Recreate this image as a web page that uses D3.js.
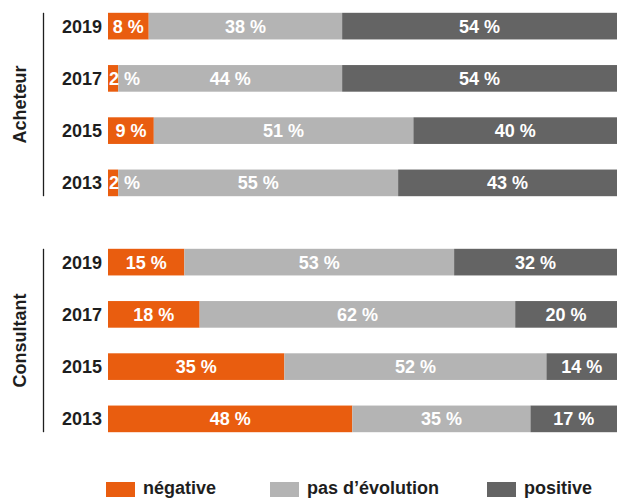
<!DOCTYPE html>
<html>
<head>
<meta charset="utf-8">
<script src="https://cdn.jsdelivr.net/npm/d3@7"></script>
<style>
  html, body { margin: 0; padding: 0; background: #fff; }
  svg { display: block; }
  text { font-family: "Liberation Sans", Arial, sans-serif; font-weight: bold; }
</style>
</head>
<body>
<svg id="chart" width="628" height="499"></svg>
<script>
// Évolution perçue, par profil et par année (en %)
const groups = ["Acheteur", "Consultant"];
const years = ["2019", "2017", "2015", "2013"];
const seriesKeys = ["negative", "stable", "positive"];
const seriesLabels = ["négative", "pas d’évolution", "positive"];
const colors = ["#E95D0F", "#B4B4B4", "#646464"];

const acheteurNegative = [8, 2, 9, 2];
const acheteurStable   = [38, 44, 51, 55];
const acheteurPositive = [54, 54, 40, 43];

const consultantNegative = [15, 18, 35, 48];
const consultantStable   = [53, 62, 52, 35];
const consultantPositive = [32, 20, 14, 17];

const groupValues = {
  Acheteur:   [acheteurNegative, acheteurStable, acheteurPositive],
  Consultant: [consultantNegative, consultantStable, consultantPositive]
};

const svg = d3.select("#chart");

const x = d3.scaleLinear().domain([0, 1]).range([108, 617]);
const groupTop = { Acheteur: 0, Consultant: 236 };
const y = d3.scaleBand().domain(years).range([0, 209]).paddingInner(0.49).paddingOuter(0.245);

const stack = d3.stack().keys(seriesKeys).offset(d3.stackOffsetExpand);
const fontSize = 18;

groups.forEach(g => {
  const vals = groupValues[g];
  const rows = years.map((yr, i) => {
    const r = { year: yr };
    seriesKeys.forEach((k, j) => { r[k] = vals[j][i]; });
    return r;
  });
  const layers = stack(rows);

  const gEl = svg.append("g").attr("transform", `translate(0,${groupTop[g]})`);
  const barsG = gEl.append("g");
  const labelsG = gEl.append("g");

  // barres empilées, puis étiquettes par-dessus
  layers.forEach((layer, j) => {
    barsG.append("g").selectAll("rect")
      .data(layer)
      .join("rect")
      .attr("x", d => x(d[0]))
      .attr("width", d => x(d[1]) - x(d[0]))
      .attr("y", d => y(d.data.year))
      .attr("height", y.bandwidth())
      .attr("fill", colors[j]);

    labelsG.append("g").selectAll("text")
      .data(layer)
      .join("text")
      .each(function(d) {
        const w = x(d[1]) - x(d[0]);
        const narrow = w < 30;
        d3.select(this)
          .attr("x", narrow ? x(d[0]) + 1 : (x(d[0]) + x(d[1])) / 2)
          .attr("text-anchor", narrow ? "start" : "middle");
      })
      .attr("y", d => y(d.data.year) + y.bandwidth() / 2)
      .attr("dy", "0.36em")
      .attr("fill", "#fff")
      .attr("font-size", fontSize)
      .text(d => d.data[seriesKeys[j]] + " %");
  });

  // axe des années
  const axis = d3.axisLeft(y).tickSize(0).tickPadding(6);
  const axG = gEl.append("g").attr("transform", "translate(102,0)").call(axis);
  axG.select(".domain").remove();
  axG.selectAll("text")
    .attr("font-size", fontSize)
    .attr("fill", "#1e1e1e")
    .attr("x", 0)
    .attr("dy", "0.36em")
    .style("font-family", "'Liberation Sans', Arial, sans-serif")
    .style("font-weight", "bold");

  // trait vertical du groupe
  gEl.append("line")
    .attr("x1", 43.5).attr("x2", 43.5)
    .attr("y1", y(years[0])).attr("y2", y(years[years.length - 1]) + y.bandwidth())
    .attr("stroke", "#1e1e1e").attr("stroke-width", 1.3);

  // libellé du groupe
  const cy = (y(years[0]) + y(years[years.length - 1]) + y.bandwidth()) / 2;
  gEl.append("text")
    .attr("transform", `translate(26,${cy}) rotate(-90)`)
    .attr("text-anchor", "middle")
    .attr("font-size", fontSize)
    .attr("fill", "#1e1e1e")
    .text(g);
});

// légende
const legendX = [106, 270, 487];
const legend = svg.append("g");
seriesLabels.forEach((lab, j) => {
  legend.append("rect")
    .attr("x", legendX[j]).attr("y", 482)
    .attr("width", 29).attr("height", 15)
    .attr("fill", colors[j]);
  legend.append("text")
    .attr("x", legendX[j] + 37).attr("y", 494)
    .attr("font-size", fontSize)
    .attr("fill", "#1e1e1e")
    .text(lab);
});
</script>
</body>
</html>
